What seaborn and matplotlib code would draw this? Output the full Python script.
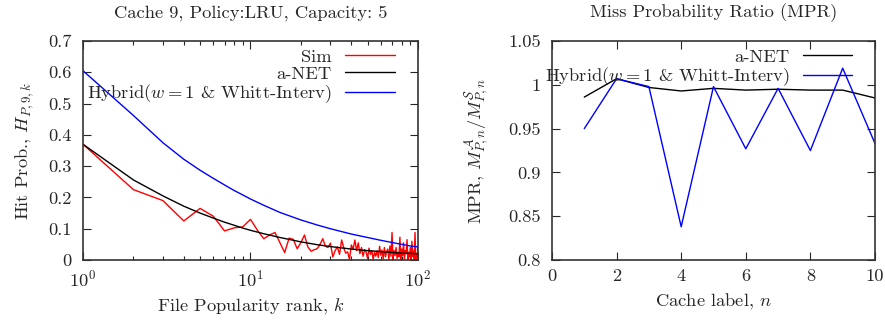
import numpy as np
import pandas as pd
import seaborn as sns
import matplotlib.pyplot as plt
from matplotlib.ticker import FuncFormatter

# left panel: hit probability vs popularity rank (cache 9)
rank_sim = list(range(1, 101))
hit_sim = [0.370, 0.225, 0.190, 0.125, 0.165, 0.140, 0.093, 0.103, 0.106, 0.130,
           0.095, 0.068, 0.080, 0.088, 0.055, 0.024, 0.070, 0.066, 0.036, 0.056,
           0.080, 0.042, 0.028, 0.033, 0.036, 0.050, 0.068, 0.044, 0.040, 0.054,
           0.010, 0.030, 0.042, 0.018, 0.064, 0.040, 0.022, 0.026, 0.002, 0.048,
           0.035, 0.064, 0.030, 0.055, 0.020, 0.040, 0.012, 0.033, 0.025, 0.005,
           0.038, 0.018, 0.030, 0.002, 0.025, 0.012, 0.030, 0.008, 0.044, 0.015,
           0.032, 0.004, 0.040, 0.010, 0.028, 0.035, 0.002, 0.045, 0.012, 0.088,
           0.000, 0.030, 0.015, 0.040, 0.005, 0.025, 0.010, 0.073, 0.000, 0.035,
           0.015, 0.055, 0.004, 0.030, 0.020, 0.065, 0.000, 0.025, 0.010, 0.040,
           0.005, 0.060, 0.012, 0.028, 0.002, 0.088, 0.000, 0.020, 0.010, 0.045]

rank_model = [1, 2, 3, 4, 5, 6, 7, 8, 9, 10, 12, 15, 20, 25, 30, 40, 50, 60, 70, 80, 90, 100]
hit_anet = [0.370, 0.256, 0.205, 0.172, 0.150, 0.134, 0.121, 0.111, 0.102, 0.095,
            0.084, 0.072, 0.058, 0.049, 0.043, 0.035, 0.030, 0.027, 0.024, 0.022, 0.021, 0.020]
hit_hybrid = [0.605, 0.462, 0.375, 0.322, 0.287, 0.261, 0.240, 0.222, 0.208, 0.195,
              0.175, 0.152, 0.128, 0.112, 0.100, 0.083, 0.072, 0.063, 0.056, 0.050, 0.045, 0.042]

# right panel: miss probability ratio per cache
cache = [1, 2, 3, 4, 5, 6, 7, 8, 9, 10]
mpr_anet = [0.986, 1.007, 0.997, 0.993, 0.996, 0.994, 0.995, 0.994, 0.994, 0.985]
mpr_hybrid = [0.950, 1.007, 0.998, 0.838, 0.998, 0.927, 0.996, 0.925, 1.019, 0.933]

FS = 13.3

sns.set_style('ticks')
plt.rcParams['font.family'] = ['cmr10']
plt.rcParams['mathtext.fontset'] = 'cm'
plt.rcParams['axes.formatter.use_mathtext'] = True
plt.rcParams['font.size'] = FS

fig = plt.figure(figsize=(8.85, 3.22), dpi=100)
ax1 = fig.add_axes([0.0938, 0.1925, 0.3785, 0.680])
ax2 = fig.add_axes([0.6237, 0.1925, 0.365, 0.680])

hyb_label = r'Hybrid($w=1$ & Whitt-Interv)'

sns.lineplot(x=rank_sim, y=hit_sim, ax=ax1, color='#ff0000', lw=1, label='Sim')
sns.lineplot(x=rank_model, y=hit_anet, ax=ax1, color='black', lw=1, label='a-NET')
sns.lineplot(x=rank_model, y=hit_hybrid, ax=ax1, color='#0000ff', lw=1, label=hyb_label)
ax1.set_xscale('log')
ax1.set_xlim(1, 100)
ax1.set_ylim(0, 0.7)
ax1.set_yticks(np.arange(0, 0.71, 0.1))
ax1.set_title('Cache 9, Policy:LRU, Capacity: 5', fontsize=FS, pad=17)
ax1.set_xlabel(r'File Popularity rank, $k$', labelpad=5)
ax1.set_ylabel(r'Hit Prob., $H_{P,9,k}$', labelpad=9)

sns.lineplot(x=cache, y=mpr_anet, ax=ax2, color='black', lw=1, label='a-NET')
sns.lineplot(x=cache, y=mpr_hybrid, ax=ax2, color='#0000ff', lw=1, label=hyb_label)
ax2.set_xlim(0, 10)
ax2.set_ylim(0.8, 1.05)
ax2.set_xticks(range(0, 11, 2))
ax2.set_yticks([0.8, 0.85, 0.9, 0.95, 1.0, 1.05])
ax2.set_title('Miss Probability Ratio (MPR)', fontsize=FS, pad=17)
ax2.set_xlabel(r'Cache label, $n$', labelpad=5)
ax2.set_ylabel(r'MPR, $M^{\mathcal{A}}_{P,n}/M^{\mathcal{S}}_{P,n}$', labelpad=12)

fmt = FuncFormatter(lambda v, p: '%g' % round(v, 3))
for ax in (ax1, ax2):
    ax.yaxis.set_major_formatter(fmt)
    ax.tick_params(which='both', direction='in', top=True, right=True, labelsize=FS)
    ax.tick_params(which='major', length=6, width=0.8)
    ax.tick_params(axis='y', which='major', pad=8)
    ax.tick_params(axis='x', which='major', pad=6)
    ax.tick_params(which='minor', length=3, width=0.8)
    for s in ax.spines.values():
        s.set_color('#333333')
        s.set_linewidth(1.2)
    ax.legend(loc='upper right', bbox_to_anchor=(0.93, 0.965), frameon=False,
              markerfirst=False, handlelength=2.7, handletextpad=0.7,
              labelspacing=0.05, borderpad=0, borderaxespad=0, fontsize=FS)
ax2.xaxis.set_major_formatter(FuncFormatter(lambda v, p: '%g' % v))

fig.savefig('out.png', dpi=100)
